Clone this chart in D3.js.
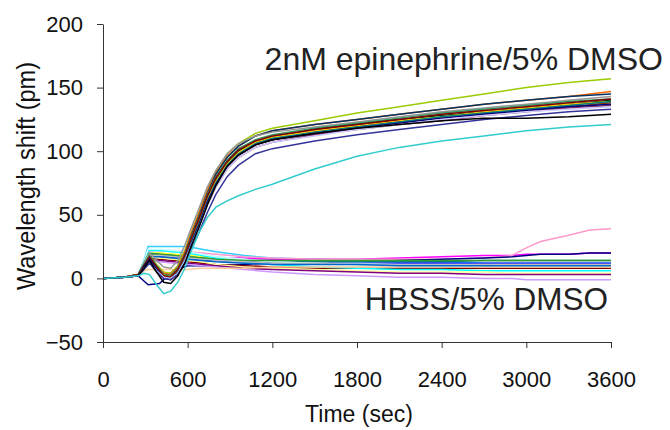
<!DOCTYPE html>
<html>
<head>
<meta charset="utf-8">
<script src="https://cdn.jsdelivr.net/npm/d3@7"></script>
<style>
  body { margin: 0; background: #fff; }
  svg { font-family: "Liberation Sans", Arial, sans-serif; }
</style>
</head>
<body>
<div id="rendering"></div>
<script>
// time points (sec) for the epinephrine and buffer traces
const epiTimes = [0, 150, 250, 290, 330, 380, 430, 480, 530, 580, 620, 680, 740, 800, 880, 960, 1080, 1200, 1500, 1800, 2100, 2400, 2700, 3000, 3300, 3600];
const hbssTimes = [0, 150, 250, 290, 320, 400, 500, 600, 700, 800, 1000, 1200, 1500, 1800, 2100, 2400, 2700, 2900, 3000, 3100, 3300, 3450, 3600];

// 2nM epinephrine / 5% DMSO wells (pm)
const epiCurves = [
  [0, 1, 3, 11, 18, 11, 5, 4, 10, 22, 35, 52, 70, 84, 98, 106, 114, 118, 124, 130, 135, 140, 145, 150, 154, 157],
  [0, 1, 3, 10, 17, 10, 4, 3, 9, 21, 34, 51, 69, 83, 96, 104, 112, 116, 121, 125, 129, 133, 137, 140, 143, 147],
  [0, 1, 2, 10, 16, 9, 3, 2, 8, 19, 32, 49, 67, 82, 95, 104, 112, 116, 121, 125, 129, 133, 137, 140, 143, 145],
  [0, 1, 3, 12, 20, 14, 9, 8, 14, 26, 38, 55, 72, 85, 98, 106, 112, 115, 119, 123, 127, 131, 134, 137, 140, 143],
  [0, 1, 3, 11, 18, 10, 3, 2, 8, 19, 31, 48, 66, 80, 93, 102, 109, 113, 118, 122, 126, 130, 133, 136, 139, 141],
  [0, 1, 3, 10, 16, 9, 2, 1, 6, 16, 28, 45, 63, 77, 91, 100, 107, 111, 117, 121, 125, 128, 131, 134, 137, 140],
  [0, 1, 3, 9, 15, 8, 2, 1, 6, 16, 28, 44, 62, 76, 90, 99, 107, 111, 116, 120, 124, 127, 131, 134, 137, 139],
  [0, 1, 2, 9, 15, 8, 1, 0, 5, 15, 26, 42, 60, 74, 88, 97, 105, 109, 115, 119, 123, 126, 129, 132, 135, 138],
  [0, 1, 2, 8, 14, 7, 1, 0, 4, 14, 25, 41, 58, 72, 86, 95, 103, 107, 113, 117, 121, 124, 128, 131, 134, 136],
  [0, 1, 2, 9, 15, 8, 1, 0, 5, 15, 27, 43, 61, 75, 89, 98, 106, 110, 115, 119, 123, 127, 130, 133, 136, 139],
  [0, 1, 3, 10, 17, 9, 2, 1, 7, 18, 30, 47, 65, 79, 92, 101, 108, 112, 117, 121, 125, 129, 132, 135, 138, 141],
  [0, 1, 2, 9, 15, 7, 0, -1, 4, 14, 26, 42, 60, 74, 88, 97, 105, 109, 114, 118, 122, 126, 129, 132, 135, 137],
  [0, 1, 2, 8, 13, 6, 1, 0, 4, 14, 25, 40, 58, 72, 86, 95, 103, 107, 112, 117, 121, 125, 128, 131, 133, 135],
  [0, 1, 2, 7, 12, 5, 0, -1, 3, 12, 22, 36, 52, 66, 80, 89, 98, 102, 108, 113, 117, 121, 125, 128, 131, 133],
  [0, 1, 2, 8, 14, 5, -3, -4, 2, 12, 24, 40, 58, 73, 88, 97, 105, 109, 114, 118, 121, 124, 126, 126, 127, 129],
  [0, 1, 2, 4, 3, -5, -12, -10, -3, 8, 20, 36, 48, 56, 61, 65, 70, 74, 86, 96, 103, 108, 112, 116, 119, 121]
];
const epiColors = ["#99cc00", "#ff6600", "#003366", "#969696", "#339966", "#003300", "#ffcc00", "#993300",
  "#993366", "#008080", "#800000", "#000080", "#ccccff", "#333399", "#000000", "#33cccc"];

// HBSS / 5% DMSO wells (pm)
const hbssCurves = [
  [0, 1, 3, 14, 25, 25, 25, 25, 23, 21, 18, 16, 15, 14, 13, 13, 12, 12, 12, 12, 12, 12, 12],
  [0, 1, 3, 11, 18, 18, 17, 17, 17, 16, 16, 15, 15, 15, 16, 17, 18, 18, 19, 19, 19, 20, 20],
  [0, 1, 3, 12, 22, 22, 22, 21, 20, 19, 17, 16, 15, 15, 15, 15, 16, 18, 24, 29, 34, 38, 39],
  [0, 1, 2, -2, -5, -4, 6, 10, 10, 10, 11, 12, 12, 13, 14, 15, 16, 17, 18, 19, 19, 20, 20],
  [0, 1, 3, 12, 20, 20, 19, 18, 17, 16, 14, 13, 12, 12, 11, 11, 10, 10, 10, 10, 10, 10, 9],
  [0, 1, 3, 12, 20, 19, 18, 17, 16, 15, 14, 14, 13, 13, 13, 13, 14, 14, 14, 14, 14, 14, 14],
  [0, 1, 3, 11, 18, 17, 16, 15, 14, 14, 13, 12, 12, 12, 12, 12, 12, 12, 12, 12, 12, 12, 12],
  [0, 1, 3, 13, 22, 22, 21, 20, 19, 17, 15, 13, 12, 12, 11, 11, 11, 11, 11, 11, 11, 11, 11],
  [0, 1, 2, 10, 16, 15, 14, 13, 12, 11, 10, 9, 8, 8, 8, 8, 8, 8, 8, 8, 8, 8, 8],
  [0, 1, 3, 13, 22, 22, 21, 20, 18, 16, 13, 11, 9, 8, 7, 7, 6, 6, 6, 6, 6, 6, 6],
  [0, 1, 2, 10, 17, 16, 15, 14, 13, 11, 9, 8, 7, 6, 5, 5, 5, 4, 4, 4, 4, 4, 4],
  [0, 1, 2, 9, 15, 14, 13, 12, 11, 10, 8, 7, 6, 5, 4, 4, 3, 3, 3, 3, 3, 3, 3],
  [0, 1, 2, 9, 14, 13, 12, 11, 10, 9, 7, 5, 3, 2, 1, 1, 0, 0, -1, -1, -1, -1, -1],
  [0, 1, 2, 6, 7, 7, 7, 7, 8, 8, 8, 9, 9, 9, 9, 9, 9, 9, 9, 9, 9, 9, 9],
  [0, 1, 3, 13, 23, 23, 22, 21, 19, 17, 15, 13, 12, 11, 10, 10, 10, 10, 10, 10, 10, 10, 10],
  [0, 1, 3, 12, 19, 19, 18, 17, 16, 15, 14, 14, 14, 14, 14, 14, 14, 14, 14, 14, 14, 14, 14],
  [0, 1, 3, 11, 18, 18, 17, 16, 15, 14, 13, 12, 12, 11, 11, 11, 11, 11, 11, 11, 11, 11, 11],
  [0, 1, 3, 11, 17, 17, 16, 15, 14, 13, 12, 11, 11, 11, 10, 10, 10, 10, 10, 10, 10, 10, 10]
];
const hbssColors = ["#33ccff", "#ff00ff", "#ff99cc", "#000080", "#ffff00", "#008080", "#0000ff", "#99ccff",
  "#800000", "#00ffff", "#ffff99", "#800080", "#cc99ff", "#ffcc99", "#ccffff", "#339933", "#c0c0c0", "#0066cc"];

const xTicks = [0, 600, 1200, 1800, 2400, 3000, 3600];
const yTicks = [-50, 0, 50, 100, 150, 200];

const width = 670;
const height = 430;

const scaleX = d3.scaleLinear().domain([0, 3600]).range([103, 611]);
const scaleY = d3.scaleLinear().domain([-50, 200]).range([342, 24]);

const svg = d3
  .select("#rendering")
  .append("svg")
  .attr("width", width)
  .attr("height", height)
  .style("background-color", "white");

const line = (times) =>
  d3
    .line()
    .x((d, i) => scaleX(times[i]))
    .y((d) => scaleY(d));

svg
  .append("g")
  .selectAll("path")
  .data(hbssCurves)
  .enter()
  .append("path")
  .attr("d", line(hbssTimes))
  .attr("fill", "none")
  .attr("stroke", (d, i) => hbssColors[i])
  .attr("stroke-width", 1.5);

svg
  .append("g")
  .selectAll("path")
  .data(epiCurves)
  .enter()
  .append("path")
  .attr("d", line(epiTimes))
  .attr("fill", "none")
  .attr("stroke", (d, i) => epiColors[i])
  .attr("stroke-width", 1.5);

const xAxis = svg
  .append("g")
  .attr("transform", `translate(0, ${scaleY(-50)})`)
  .call(
    d3.axisBottom(scaleX).tickValues(xTicks).tickFormat(d3.format("d"))
      .tickSize(6).tickPadding(39).tickSizeOuter(0)
  );

const yAxis = svg
  .append("g")
  .attr("transform", `translate(${scaleX(0)}, 0)`)
  .call(d3.axisLeft(scaleY).tickValues(yTicks).tickSize(6).tickPadding(14).tickSizeOuter(0));

[xAxis, yAxis].forEach((ax) => {
  ax.select(".domain").attr("stroke", "#333");
  ax.selectAll(".tick line").attr("stroke", "#333");
  ax.selectAll(".tick text")
    .attr("fill", "#111")
    .style("font-size", "22px")
    .style("font-family", "'Liberation Sans', Arial, sans-serif");
});
xAxis.selectAll(".tick text").attr("dy", "0");

svg
  .append("text")
  .attr("x", 359)
  .attr("y", 422)
  .attr("text-anchor", "middle")
  .style("font-size", "23px")
  .attr("fill", "#111")
  .text("Time (sec)");

svg
  .append("text")
  .attr("transform", "translate(35, 176) rotate(-90)")
  .attr("text-anchor", "middle")
  .attr("textLength", 228)
  .attr("lengthAdjust", "spacingAndGlyphs")
  .style("font-size", "26px")
  .attr("fill", "#111")
  .text("Wavelength shift (pm)");

svg
  .append("text")
  .attr("x", 663)
  .attr("y", 70)
  .attr("text-anchor", "end")
  .style("font-size", "32px")
  .attr("fill", "#222")
  .text("2nM epinephrine/5% DMSO");

svg
  .append("text")
  .attr("x", 608)
  .attr("y", 310)
  .attr("text-anchor", "end")
  .style("font-size", "31.5px")
  .attr("fill", "#222")
  .text("HBSS/5% DMSO");
</script>
</body>
</html>
